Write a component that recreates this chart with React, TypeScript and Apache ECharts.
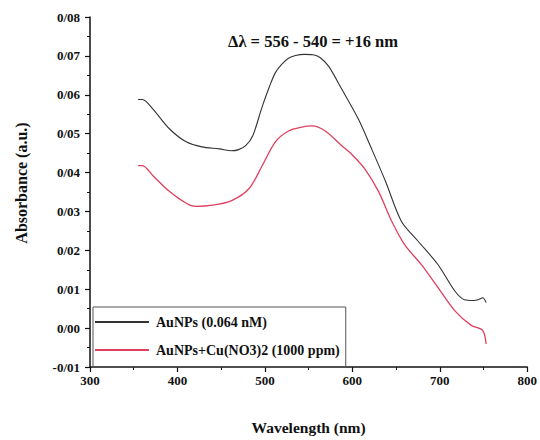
import React, { useEffect, useRef } from "react";
import * as echarts from "echarts";

const auWavelength = [355, 360, 372, 391, 410, 428, 448, 462, 470, 478, 486, 497, 505, 512, 520, 527, 535, 545, 555, 563, 573, 588, 607, 622, 638, 656, 675, 698, 717, 728, 739, 745, 749, 753];
const auAbs = [0.0588, 0.0588, 0.0563, 0.0512, 0.0479, 0.0466, 0.0461, 0.0456, 0.0459, 0.0469, 0.0494, 0.057, 0.062, 0.0657, 0.068, 0.0694, 0.0701, 0.0704, 0.0703, 0.0696, 0.0673, 0.0614, 0.0537, 0.0461, 0.0377, 0.0275, 0.0224, 0.0163, 0.0096, 0.0073, 0.0071, 0.0074, 0.0078, 0.0066];

const cuWavelength = [355, 360, 372, 391, 410, 421, 440, 462, 482, 497, 512, 527, 542, 554, 569, 588, 600, 614, 630, 645, 660, 679, 698, 717, 736, 749, 753];
const cuAbs = [0.0418, 0.0418, 0.0392, 0.0351, 0.0321, 0.0313, 0.0316, 0.0328, 0.0359, 0.0418, 0.0479, 0.0507, 0.0517, 0.052, 0.0507, 0.0469, 0.0445, 0.041, 0.0351, 0.0275, 0.0214, 0.0163, 0.0104, 0.0045, 0.0007, -0.0006, -0.0041];

const seriesNames = ["AuNPs (0.064 nM)", "AuNPs+Cu(NO3)2 (1000 ppm)"];
const titleText = "Δλ = 556 - 540 = +16 nm";
const xName = "Wavelength (nm)";
const yName = "Absorbance (a.u.)";

const FONT = "Liberation Serif";
const BLACK = "#333";
const RED = "#e0405e";

export default function App() {
  const ref = useRef<HTMLDivElement>(null);
  useEffect(() => {
    if (!ref.current) return;
    const chart = echarts.init(ref.current, undefined, { renderer: "svg" });
    const axisLine = { show: true, onZero: false, lineStyle: { color: "#111", width: 1.5 } };
    chart.setOption({
      animation: false,
      backgroundColor: "#fff",
      title: {
        text: titleText,
        left: 308,
        top: 28,
        textAlign: "center",
        textStyle: { fontFamily: FONT, fontWeight: "bold", fontSize: 16.5, color: "#111" },
      },
      graphic: [
        {
          type: "text",
          x: 21,
          y: 183,
          rotation: Math.PI / 2,
          style: {
            text: yName,
            fontFamily: FONT,
            fontWeight: "bold",
            fontSize: 16,
            fill: "#111",
            align: "center",
            verticalAlign: "middle",
          },
        },
      ],
      legend: {
        orient: "vertical",
        left: 93,
        top: 307,
        padding: [8, 6, 10, 2],
        itemGap: 14,
        itemWidth: 54,
        itemHeight: 2,
        icon: "rect",
        borderColor: "#555",
        borderWidth: 1,
        borderRadius: 0,
        textStyle: { fontFamily: FONT, fontWeight: "bold", fontSize: 14, color: "#111", padding: [0, 0, 0, 2], lineHeight: 14 },
        data: [
          { name: seriesNames[0], itemStyle: { color: BLACK } },
          { name: seriesNames[1], itemStyle: { color: RED } },
        ],
      },
      grid: { left: 90, right: 10, top: 17, bottom: 70 },
      xAxis: {
        type: "value",
        min: 300,
        max: 800,
        interval: 100,
        name: xName,
        nameLocation: "middle",
        nameGap: 52,
        nameTextStyle: { fontFamily: FONT, fontWeight: "bold", fontSize: 15.5, color: "#111" },
        axisLine,
        axisTick: { show: true, length: 5, lineStyle: { color: "#111", width: 1.2 } },
        minorTick: { show: true, splitNumber: 2, length: 3, lineStyle: { color: "#111", width: 1 } },
        splitLine: { show: false },
        axisLabel: { fontFamily: FONT, fontWeight: "bold", fontSize: 13, color: "#111", margin: 7 },
      },
      yAxis: {
        type: "value",
        min: -0.01,
        max: 0.08,
        interval: 0.01,
        axisLine,
        axisTick: { show: true, length: 5, lineStyle: { color: "#111", width: 1.2 } },
        minorTick: { show: true, splitNumber: 2, length: 3, lineStyle: { color: "#111", width: 1 } },
        splitLine: { show: false },
        axisLabel: {
          fontFamily: FONT,
          fontWeight: "bold",
          fontSize: 13,
          color: "#111",
          margin: 10,
          formatter: (v: number) => v.toFixed(2).replace(".", "/"),
        },
      },
      series: [
        {
          name: seriesNames[0],
          type: "line",
          symbol: "none",
          smooth: 0.3,
          data: auWavelength.map((w, i) => [w, auAbs[i]]),
          lineStyle: { color: BLACK, width: 1.1 },
          itemStyle: { color: BLACK },
        },
        {
          name: seriesNames[1],
          type: "line",
          symbol: "none",
          smooth: 0.3,
          data: cuWavelength.map((w, i) => [w, cuAbs[i]]),
          lineStyle: { color: RED, width: 1.3 },
          itemStyle: { color: RED },
        },
      ],
    });
    return () => chart.dispose();
  }, []);
  return <div ref={ref} style={{ width: 540, height: 440, position: "absolute", left: 0, top: 0 }} />;
}
